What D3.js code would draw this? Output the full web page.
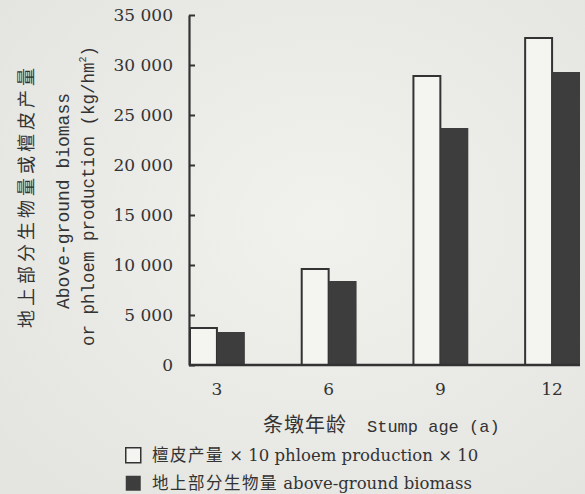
<!DOCTYPE html>
<html>
<head>
<meta charset="utf-8">
<script src="https://cdn.jsdelivr.net/npm/d3@7"></script>
<style>
    html, body { margin: 0; padding: 0; background: #eaeae6; }
    svg { display: block; }
    .cjk { font-family: "Noto Sans CJK SC", sans-serif; }
    .serif { font-family: "DejaVu Serif", serif; }
    .mono { font-family: "Liberation Mono", "DejaVu Sans Mono", monospace; }
</style>
</head>
<body>
<svg id="chart" width="585" height="494"></svg>
<script>
// Stump age groups and the two series (kg/hm2); phloem values already x10
const stumpAges = ["3", "6", "9", "12"];
const phloemX10 = [3700, 9600, 28900, 32700];
const biomass = [3300, 8400, 23700, 29300];
const yTicks = [0, 5000, 10000, 15000, 20000, 25000, 30000, 35000];
const seriesNames = ["phloem", "biomass"];

const ink = "#333";
const barDark = "#3d3d3d";
const barLight = "#f4f4f1";

const svg = d3.select("#chart");

// soft paper background, lighter toward the middle
let defs = svg.append("defs");
let grad = defs.append("radialGradient")
    .attr("id", "paper")
    .attr("cx", "55%").attr("cy", "45%").attr("r", "70%");
grad.append("stop").attr("offset", "0%").attr("stop-color", "#f1f1ee");
grad.append("stop").attr("offset", "100%").attr("stop-color", "#e4e4e0");
svg.append("rect")
    .attr("width", 585).attr("height", 494)
    .attr("fill", "url(#paper)");

const plotLeft = 189, plotRight = 580, plotTop = 15, plotBottom = 365;

const x0 = d3.scaleBand()
    .domain(stumpAges)
    .range([plotLeft, plotRight])
    .paddingInner(0.5)
    .paddingOuter(0);

const x1 = d3.scaleBand()
    .domain(seriesNames)
    .range([0, x0.bandwidth()])
    .padding(0);

const y = d3.scaleLinear()
    .domain([0, 35000])
    .range([plotBottom, plotTop]);

const fmt = d3.formatLocale({decimal: ".", thousands: " ", grouping: [3], currency: ["", ""]}).format(",");

const rows = stumpAges.map((age, i) => ({
    age: age,
    values: [
        {key: "phloem", value: phloemX10[i]},
        {key: "biomass", value: biomass[i]}
    ]
}));

// bars
let groups = svg.append("g")
    .selectAll("g")
    .data(rows)
    .join("g")
    .attr("transform", d => `translate(${x0(d.age)},0)`);

groups.selectAll("rect")
    .data(d => d.values)
    .join("rect")
    .attr("x", d => x1(d.key) + (d.key === "phloem" ? 1 : 0))
    .attr("y", d => y(d.value))
    .attr("width", d => x1.bandwidth() - (d.key === "phloem" ? 1 : 0))
    .attr("height", d => y(0) - y(d.value))
    .attr("fill", d => d.key === "phloem" ? barLight : barDark)
    .attr("stroke", d => d.key === "phloem" ? ink : "none")
    .attr("stroke-width", 2);

// y axis with inward ticks
let yAxis = svg.append("g")
    .attr("transform", `translate(${plotLeft},0)`)
    .call(d3.axisLeft(y)
        .tickValues(yTicks)
        .tickFormat(fmt)
        .tickSizeInner(-6)
        .tickSizeOuter(0)
        .tickPadding(16));
yAxis.select(".domain").attr("stroke", ink).attr("stroke-width", 2.2);
yAxis.selectAll(".tick line").attr("stroke", ink).attr("stroke-width", 2);
yAxis.selectAll(".tick text")
    .attr("class", "serif")
    .attr("font-size", 17)
    .attr("fill", ink);

// x axis
let xAxis = svg.append("g")
    .attr("transform", `translate(0,${plotBottom})`)
    .call(d3.axisBottom(x0)
        .tickSize(0)
        .tickPadding(18));
xAxis.select(".domain")
    .attr("stroke", ink)
    .attr("stroke-width", 2.6)
    .attr("d", `M${plotLeft},0H${plotRight}`);
xAxis.selectAll(".tick text")
    .attr("class", "serif")
    .attr("font-size", 17)
    .attr("fill", ink);

// x title
let xTitle = svg.append("text")
    .attr("x", 263)
    .attr("y", 432)
    .attr("fill", ink);
xTitle.append("tspan")
    .attr("class", "cjk")
    .attr("font-size", 20)
    .attr("letter-spacing", 1)
    .text("条墩年龄");
xTitle.append("tspan")
    .attr("class", "mono")
    .attr("font-size", 17)
    .attr("dx", 20)
    .text("Stump age (a)");

// y title, three rotated lines
const yMid = 196;
svg.append("text")
    .attr("class", "cjk")
    .attr("transform", `translate(25,${yMid}) rotate(-90)`)
    .attr("text-anchor", "middle")
    .attr("dominant-baseline", "central")
    .attr("font-size", 18)
    .attr("letter-spacing", 4)
    .attr("fill", ink)
    .text("地上部分生物量或檀皮产量");

svg.append("text")
    .attr("class", "mono")
    .attr("transform", `translate(64,${yMid + 5}) rotate(-90)`)
    .attr("text-anchor", "middle")
    .attr("dominant-baseline", "central")
    .attr("font-size", 18)
    .attr("fill", ink)
    .text("Above-ground biomass");

let line3 = svg.append("text")
    .attr("class", "mono")
    .attr("transform", `translate(89,${yMid}) rotate(-90)`)
    .attr("text-anchor", "middle")
    .attr("dominant-baseline", "central")
    .attr("font-size", 17.5)
    .attr("fill", ink);
line3.append("tspan").text("or phloem production (kg/hm");
line3.append("tspan").attr("font-size", 10).attr("dy", -6).text("2");
line3.append("tspan").attr("dy", 6).text(")");

// legend
const legendItems = [
    {cn: "檀皮产量", en: " × 10 phloem production × 10", fill: barLight, stroke: ink},
    {cn: "地上部分生物量", en: " above-ground biomass", fill: barDark, stroke: "none"}
];

let legend = svg.append("g")
    .selectAll("g")
    .data(legendItems)
    .join("g")
    .attr("transform", (d, i) => `translate(125,${447 + i * 28})`);

legend.append("rect")
    .attr("x", 0.75).attr("y", 0.75)
    .attr("width", 15).attr("height", 15)
    .attr("fill", d => d.fill)
    .attr("stroke", d => d.stroke)
    .attr("stroke-width", 1.5);

let legendText = legend.append("text")
    .attr("x", 27)
    .attr("y", 14)
    .attr("fill", ink);
legendText.append("tspan")
    .attr("class", "cjk")
    .attr("font-size", 16.5)
    .attr("letter-spacing", 1.5)
    .text(d => d.cn);
legendText.append("tspan")
    .attr("class", "serif")
    .attr("font-size", 16.5)
    .text(d => d.en);
</script>
</body>
</html>
